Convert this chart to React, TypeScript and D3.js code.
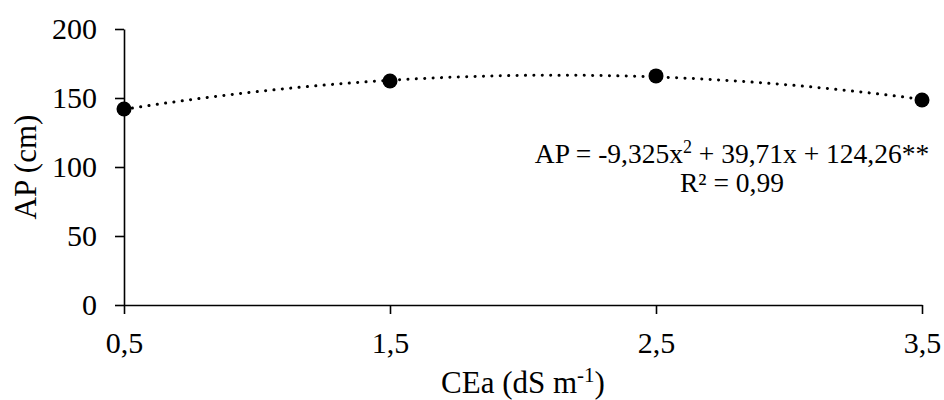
import React, { useEffect, useRef } from "react";
import * as d3 from "d3";

const doses = [0.5, 1.5, 2.5, 3.5];
const heights = [142, 162.3, 166, 148.5];
const xTicks = [0.5, 1.5, 2.5, 3.5];
const yTicks = [0, 50, 100, 150, 200];
// AP = a*x^2 + b*x + c
const fitCoefs = [-9.325, 39.71, 124.26];
const equationText = ["AP = -9,325x", "2", " + 39,71x + 124,26**"];
const r2Text = "R² = 0,99";

const W = 944;
const H = 400;
const FONT = "'Liberation Serif', 'Times New Roman', serif";

const App = () => {
  const ref = useRef<SVGSVGElement>(null);

  useEffect(() => {
    const svg = d3.select(ref.current);
    svg.selectAll("*").remove();

    const x = d3.scaleLinear().domain([0.5, 3.5]).range([124, 922]);
    const y = d3.scaleLinear().domain([0, 200]).range([305, 29]);
    const fmt = (v: number) => String(v).replace(".", ",");

    // axes
    const yAxis = svg.append("g")
      .attr("transform", `translate(${x(0.5)},0)`)
      .call(d3.axisLeft(y).tickValues(yTicks).tickSize(9).tickPadding(18).tickSizeOuter(0));
    const xAxis = svg.append("g")
      .attr("transform", `translate(0,${y(0)})`)
      .call(d3.axisBottom(x).tickValues(xTicks).tickFormat(d => fmt(d as number)).tickSize(9).tickPadding(18).tickSizeOuter(0));

    [yAxis, xAxis].forEach(g => {
      g.select(".domain").attr("stroke", "#000").attr("stroke-width", 1.6);
      g.selectAll(".tick line").attr("stroke", "#000").attr("stroke-width", 1.6);
      g.selectAll(".tick text")
        .attr("fill", "#000")
        .attr("font-family", FONT)
        .attr("font-size", 30);
    });

    // trend line from the fitted equation
    const [a, b, c] = fitCoefs;
    const xs = d3.range(0.5, 3.5001, 0.02);
    const line = d3.line<number>()
      .x(d => x(d))
      .y(d => y(a * d * d + b * d + c));
    svg.append("path")
      .datum(xs)
      .attr("d", line)
      .attr("fill", "none")
      .attr("stroke", "#000")
      .attr("stroke-width", 3)
      .attr("stroke-linecap", "round")
      .attr("stroke-dasharray", "0.1 8.3");

    // observed points
    svg.append("g")
      .selectAll("circle")
      .data(doses)
      .join("circle")
      .attr("cx", d => x(d))
      .attr("cy", (d, i) => y(heights[i]))
      .attr("r", 7.5)
      .attr("fill", "#000");

    // equation
    const eq = svg.append("text")
      .attr("x", 732)
      .attr("y", 163)
      .attr("text-anchor", "middle")
      .attr("font-family", FONT)
      .attr("font-size", 27.5)
      .attr("fill", "#000");
    eq.append("tspan").text(equationText[0]);
    eq.append("tspan").attr("dy", -10).attr("font-size", 18).text(equationText[1]);
    eq.append("tspan").attr("dy", 10).text(equationText[2]);

    svg.append("text")
      .attr("x", 732)
      .attr("y", 192)
      .attr("text-anchor", "middle")
      .attr("font-family", FONT)
      .attr("font-size", 27.5)
      .attr("fill", "#000")
      .text(r2Text);

    // axis titles
    svg.append("text")
      .attr("transform", `translate(36,${(y(0) + y(200)) / 2}) rotate(-90)`)
      .attr("text-anchor", "middle")
      .attr("font-family", FONT)
      .attr("font-size", 31)
      .attr("fill", "#000")
      .text("AP (cm)");

    const xTitle = svg.append("text")
      .attr("x", (x(0.5) + x(3.5)) / 2)
      .attr("y", 393)
      .attr("text-anchor", "middle")
      .attr("font-family", FONT)
      .attr("font-size", 31)
      .attr("fill", "#000");
    xTitle.append("tspan").text("CEa (dS m");
    xTitle.append("tspan").attr("dy", -11).attr("font-size", 21).text("-1");
    xTitle.append("tspan").attr("dy", 11).text(")");
  }, []);

  return (
    <svg
      ref={ref}
      width={W}
      height={H}
      style={{ position: "absolute", left: 0, top: 0, background: "#fff" }}
    />
  );
};

export default App;
